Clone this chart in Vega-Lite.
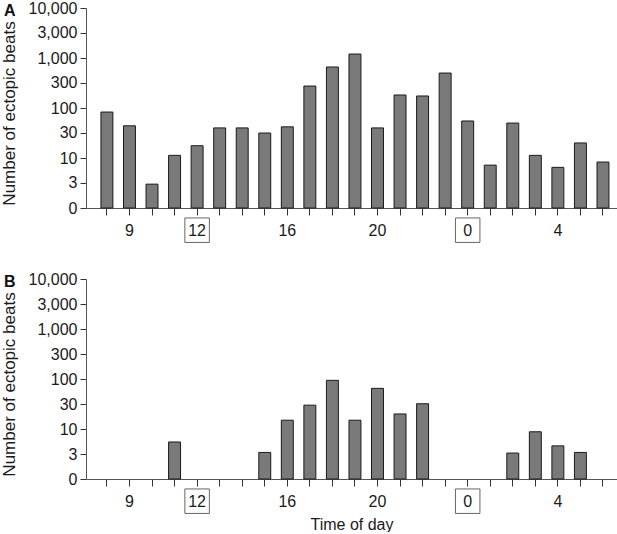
{
  "$schema": "https://vega.github.io/schema/vega-lite/v6.json",
  "padding": {"left": 0, "top": 0, "right": 0, "bottom": 0},
  "spacing": 26,
  "config": {
    "font": "Liberation Sans",
    "view": {"stroke": null},
    "axis": {
      "labelFont": "Liberation Sans",
      "titleFont": "Liberation Sans",
      "labelFontSize": 16,
      "titleFontSize": 17,
      "titleFontWeight": "normal",
      "labelColor": "#1a1a1a",
      "titleColor": "#1a1a1a",
      "domainColor": "#555555",
      "tickColor": "#333333",
      "grid": false
    }
  },
  "datasets": {
    "panelA": [
      {"hour": 8, "beats": 83}, {"hour": 9, "beats": 44}, {"hour": 10, "beats": 3},
      {"hour": 11, "beats": 11.3}, {"hour": 12, "beats": 17.6}, {"hour": 13, "beats": 40},
      {"hour": 14, "beats": 40}, {"hour": 15, "beats": 31.6}, {"hour": 16, "beats": 42},
      {"hour": 17, "beats": 275}, {"hour": 18, "beats": 661}, {"hour": 19, "beats": 1200},
      {"hour": 20, "beats": 40}, {"hour": 21, "beats": 182}, {"hour": 22, "beats": 174},
      {"hour": 23, "beats": 500}, {"hour": 0, "beats": 55}, {"hour": 1, "beats": 7.2},
      {"hour": 2, "beats": 50}, {"hour": 3, "beats": 11.3}, {"hour": 4, "beats": 6.5},
      {"hour": 5, "beats": 20}, {"hour": 6, "beats": 8.3}
    ],
    "panelB": [
      {"hour": 11, "beats": 5.5}, {"hour": 15, "beats": 3.4}, {"hour": 16, "beats": 15},
      {"hour": 17, "beats": 30}, {"hour": 18, "beats": 94}, {"hour": 19, "beats": 15},
      {"hour": 20, "beats": 65}, {"hour": 21, "beats": 20}, {"hour": 22, "beats": 32},
      {"hour": 2, "beats": 3.3}, {"hour": 3, "beats": 8.8}, {"hour": 4, "beats": 4.6},
      {"hour": 5, "beats": 3.4}
    ],
    "boxed": [{"hour": 12}, {"hour": 0}]
  },
  "vconcat": [
    {
      "width": 531,
      "height": 200,
      "title": {"text": "A", "anchor": "start", "frame": "group", "fontSize": 16, "fontWeight": "bold", "color": "#111111", "dx": -82, "dy": 19, "offset": 0},
      "layer": [
        {
          "data": {"name": "panelA"},
          "mark": {"type": "bar", "fill": "#7a7a7a", "stroke": "#1a1a1a", "strokeWidth": 1},
          "encoding": {
            "x": {
              "field": "hour", "type": "ordinal",
              "scale": {"type": "band", "domain": [8,9,10,11,12,13,14,15,16,17,18,19,20,21,22,23,0,1,2,3,4,5,6], "paddingInner": 0.47, "paddingOuter": 0.51, "align": 0.65},
              "axis": {"title": null, "labelAngle": 0, "tickSize": 7, "labelPadding": 7, "bandPosition": 0.5, "labelOverlap": false,
                       "labelExpr": "indexof([9,12,16,20,0,4], datum.value) >= 0 ? '' + datum.value : ''"}
            },
            "y": {
              "field": "beats", "type": "quantitative",
              "scale": {"type": "log", "domain": [1, 10000], "nice": false},
              "axis": {"title": "Number of ectopic beats", "values": [1, 3.16228, 10, 31.6228, 100, 316.228, 1000, 3162.28, 10000],
                       "labelExpr": "datum.value < 1.5 ? '0' : format(datum.value, ',.1r')", "tickSize": 6, "labelPadding": 3, "titlePadding": 10, "titleY": 105}
            },
            "y2": {"datum": 1}
          }
        },
        {
          "data": {"name": "boxed"},
          "mark": {"type": "point", "shape": "square", "size": 600, "filled": false, "stroke": "#666666", "strokeWidth": 1, "opacity": 1},
          "encoding": {
            "x": {"field": "hour", "type": "ordinal"},
            "y": {"datum": 0.36, "type": "quantitative"}
          }
        }
      ]
    },
    {
      "width": 531,
      "height": 200,
      "title": {"text": "B", "anchor": "start", "frame": "group", "fontSize": 16, "fontWeight": "bold", "color": "#111111", "dx": -82, "dy": 19, "offset": 0},
      "layer": [
        {
          "data": {"name": "panelB"},
          "mark": {"type": "bar", "fill": "#7a7a7a", "stroke": "#1a1a1a", "strokeWidth": 1},
          "encoding": {
            "x": {
              "field": "hour", "type": "ordinal",
              "scale": {"type": "band", "domain": [8,9,10,11,12,13,14,15,16,17,18,19,20,21,22,23,0,1,2,3,4,5,6], "paddingInner": 0.47, "paddingOuter": 0.51, "align": 0.65},
              "axis": {"title": "Time of day", "titleFontSize": 16, "labelAngle": 0, "tickSize": 7, "labelPadding": 7, "bandPosition": 0.5, "labelOverlap": false, "titlePadding": 7,
                       "labelExpr": "indexof([9,12,16,20,0,4], datum.value) >= 0 ? '' + datum.value : ''"}
            },
            "y": {
              "field": "beats", "type": "quantitative",
              "scale": {"type": "log", "domain": [1, 10000], "nice": false},
              "axis": {"title": "Number of ectopic beats", "values": [1, 3.16228, 10, 31.6228, 100, 316.228, 1000, 3162.28, 10000],
                       "labelExpr": "datum.value < 1.5 ? '0' : format(datum.value, ',.1r')", "tickSize": 6, "labelPadding": 3, "titlePadding": 10, "titleY": 105}
            },
            "y2": {"datum": 1}
          }
        },
        {
          "data": {"name": "boxed"},
          "mark": {"type": "point", "shape": "square", "size": 600, "filled": false, "stroke": "#666666", "strokeWidth": 1, "opacity": 1},
          "encoding": {
            "x": {"field": "hour", "type": "ordinal"},
            "y": {"datum": 0.36, "type": "quantitative"}
          }
        }
      ]
    }
  ]
}
